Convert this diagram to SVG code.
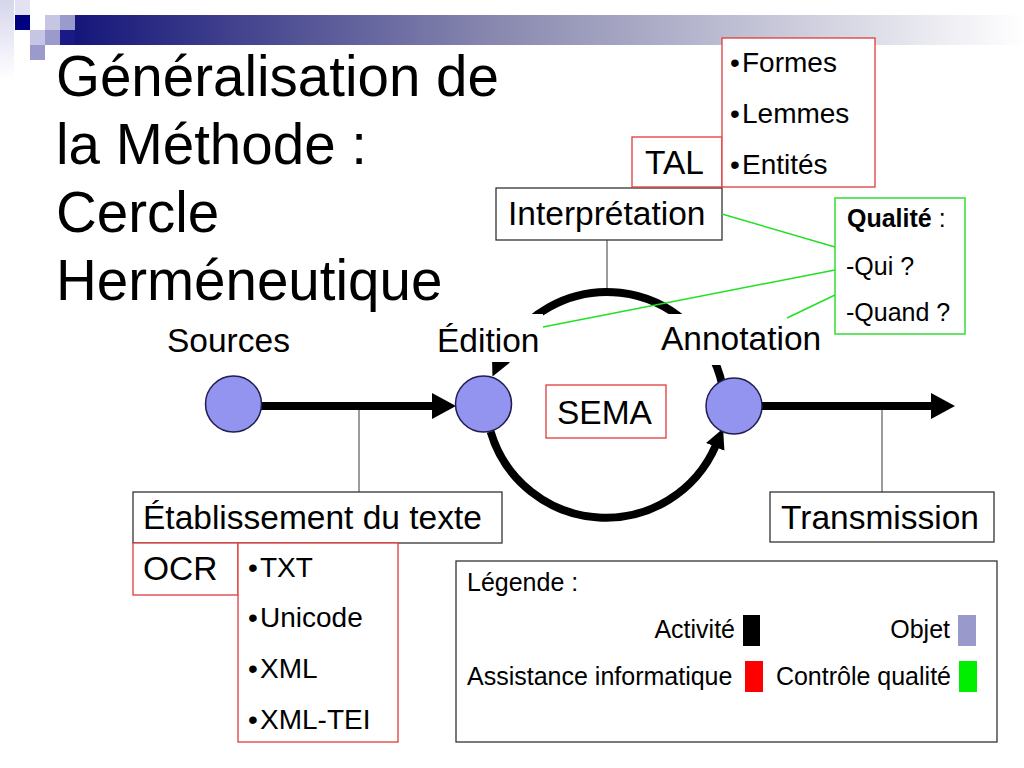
<svg xmlns="http://www.w3.org/2000/svg" width="1024" height="768" viewBox="0 0 1024 768">
<defs>
<linearGradient id="bar" x1="0" y1="0" x2="1" y2="0">
<stop offset="0" stop-color="#16167a"/>
<stop offset="0.45" stop-color="#8a8ab0"/>
<stop offset="1" stop-color="#ffffff"/>
</linearGradient>
<linearGradient id="vstrip" x1="0" y1="0" x2="0" y2="1">
<stop offset="0" stop-color="#d6d6ec"/>
<stop offset="1" stop-color="#ffffff"/>
</linearGradient>
<marker id="ah" markerUnits="userSpaceOnUse" markerWidth="24" markerHeight="26" refX="2" refY="13" orient="auto" viewBox="0 0 24 26">
<path d="M0,0 L24,13 L0,26 Z" fill="#000"/>
</marker>
<marker id="ahs" markerUnits="userSpaceOnUse" markerWidth="20" markerHeight="20" refX="2" refY="10" orient="auto" viewBox="0 0 20 20">
<path d="M0,0 L20,10 L0,20 Z" fill="#000"/>
</marker>
</defs>
<style>
text{font-family:"Liberation Sans",Arial,sans-serif;fill:#000}
.title{font-size:56.5px}
.lbl{font-size:33.5px}
.item{font-size:28px}
.q{font-size:25px}
.leg{font-size:25px}
.box{fill:#fff;stroke:#333;stroke-width:1.3}
.rbox{fill:#fff;stroke:#e03a3a;stroke-width:1.3}
.gbox{fill:#fff;stroke:#33dd33;stroke-width:1.5}
.obj{fill:#9393f0;stroke:#1e1e50;stroke-width:1.5}
.act{fill:none;stroke:#000;stroke-width:8}
.gray{stroke:#666;stroke-width:1.3}
.green{stroke:#22e022;stroke-width:1.5}
.bg{fill:#fff}
</style>
<rect width="1024" height="768" fill="#fff"/>
<g id="decoration">
<rect x="0" y="0" width="14" height="80" fill="url(#vstrip)"/>
<rect x="15" y="0" width="15" height="15" fill="#e2e2f2"/>
<rect x="75" y="15" width="949" height="30" fill="url(#bar)"/>
<rect x="15" y="15" width="15" height="15" fill="#000080"/>
<rect x="45" y="15" width="15" height="15" fill="#c6c6e4"/>
<rect x="60" y="15" width="15" height="15" fill="#9a9acc"/>
<rect x="30" y="30" width="15" height="15" fill="#c6c6e4"/>
<rect x="45" y="30" width="15" height="15" fill="#9a9acc"/>
<rect x="60" y="30" width="15" height="15" fill="#1a1a86"/>
<rect x="30" y="45" width="15" height="15" fill="#9a9acc"/>
</g>
<g id="title">
<text class="title" x="56" y="96">Généralisation de</text>
<text class="title" x="56" y="164">la Méthode :</text>
<text class="title" x="56" y="232">Cercle</text>
<text class="title" x="56" y="300">Herméneutique</text>
</g>
<g id="connectors">
<line class="gray" x1="607" y1="240" x2="607" y2="292"/>
<line class="gray" x1="359" y1="406" x2="359" y2="492"/>
<line class="gray" x1="882" y1="406" x2="882" y2="492"/>
<path class="act" d="M722.4,385.5 A118,118 0 0 0 500.1,360.1" marker-end="url(#ahs)"/>
<path class="act" d="M490.6,431.7 A120,120 0 0 0 716,445" marker-end="url(#ahs)"/>
<line class="act" x1="261" y1="406" x2="434" y2="406" marker-end="url(#ah)"/>
<line class="act" x1="762" y1="406" x2="933" y2="406" marker-end="url(#ah)"/>
</g>
<g id="sources">
<text class="lbl" x="167" y="352">Sources</text>
<circle class="obj" cx="233.5" cy="404" r="28"/>
</g>
<g id="edition">
<rect class="bg" x="430" y="314" width="113" height="48"/>
<text class="lbl" x="437" y="352">Édition</text>
<circle class="obj" cx="483.5" cy="404" r="28"/>
</g>
<g id="annotation">
<rect class="bg" x="655" y="314" width="172" height="51"/>
<text class="lbl" x="661" y="350">Annotation</text>
<circle class="obj" cx="734" cy="406" r="28"/>
</g>
<g id="interpretation">
<rect class="box" x="496" y="188" width="226" height="52"/>
<text class="lbl" x="508" y="225">Interprétation</text>
</g>
<g id="tal">
<rect class="rbox" x="632" y="137" width="90" height="50"/>
<text class="lbl" x="645" y="174">TAL</text>
</g>
<g id="tal-list">
<rect class="rbox" x="722" y="38" width="153" height="149"/>
<text class="item" y="72"><tspan x="730">•</tspan><tspan x="742">Formes</tspan></text>
<text class="item" y="123"><tspan x="730">•</tspan><tspan x="742">Lemmes</tspan></text>
<text class="item" y="174"><tspan x="730">•</tspan><tspan x="742">Entités</tspan></text>
</g>
<g id="qualite">
<rect class="gbox" x="835" y="198" width="130" height="136"/>
<text class="q" x="847" y="227"><tspan font-weight="bold">Qualité</tspan> :</text>
<text class="q" x="846" y="275">-Qui ?</text>
<text class="q" x="846" y="321">-Quand ?</text>
</g>
<g id="quality-links">
<line class="green" x1="722" y1="214" x2="835" y2="247"/>
<line class="green" x1="543" y1="327" x2="835" y2="270"/>
<line class="green" x1="787" y1="318" x2="835" y2="295"/>
</g>
<g id="sema">
<rect class="rbox" x="546" y="385" width="120" height="53"/>
<text class="lbl" x="557" y="424">SEMA</text>
</g>
<g id="etablissement">
<rect class="box" x="133" y="492" width="369" height="51"/>
<text class="lbl" x="143" y="529">Établissement du texte</text>
</g>
<g id="ocr">
<rect class="rbox" x="133" y="543" width="105" height="52"/>
<text class="lbl" x="143" y="580">OCR</text>
</g>
<g id="ocr-list">
<rect class="rbox" x="238" y="543" width="160" height="199"/>
<text class="item" y="577"><tspan x="248">•</tspan><tspan x="260">TXT</tspan></text>
<text class="item" y="627"><tspan x="248">•</tspan><tspan x="260">Unicode</tspan></text>
<text class="item" y="678"><tspan x="248">•</tspan><tspan x="260">XML</tspan></text>
<text class="item" y="729"><tspan x="248">•</tspan><tspan x="260">XML-TEI</tspan></text>
</g>
<g id="transmission">
<rect class="box" x="770" y="492" width="224" height="50"/>
<text class="lbl" x="781" y="529">Transmission</text>
</g>
<g id="legende">
<rect x="456" y="561" width="541" height="181" fill="#fff" stroke="#333" stroke-width="1.3"/>
<text class="leg" x="467" y="591">Légende :</text>
<text class="leg" x="735" y="638" text-anchor="end">Activité</text>
<rect x="743" y="615" width="17" height="31" fill="#000"/>
<text class="leg" x="950" y="638" text-anchor="end">Objet</text>
<rect x="958" y="615" width="18" height="31" fill="#9999cc"/>
<text class="leg" x="467" y="685">Assistance informatique</text>
<rect x="745" y="661" width="18" height="31" fill="#ff0000"/>
<text class="leg" x="951" y="685" text-anchor="end">Contrôle qualité</text>
<rect x="959" y="661" width="18" height="31" fill="#00ee00"/>
</g>
</svg>
